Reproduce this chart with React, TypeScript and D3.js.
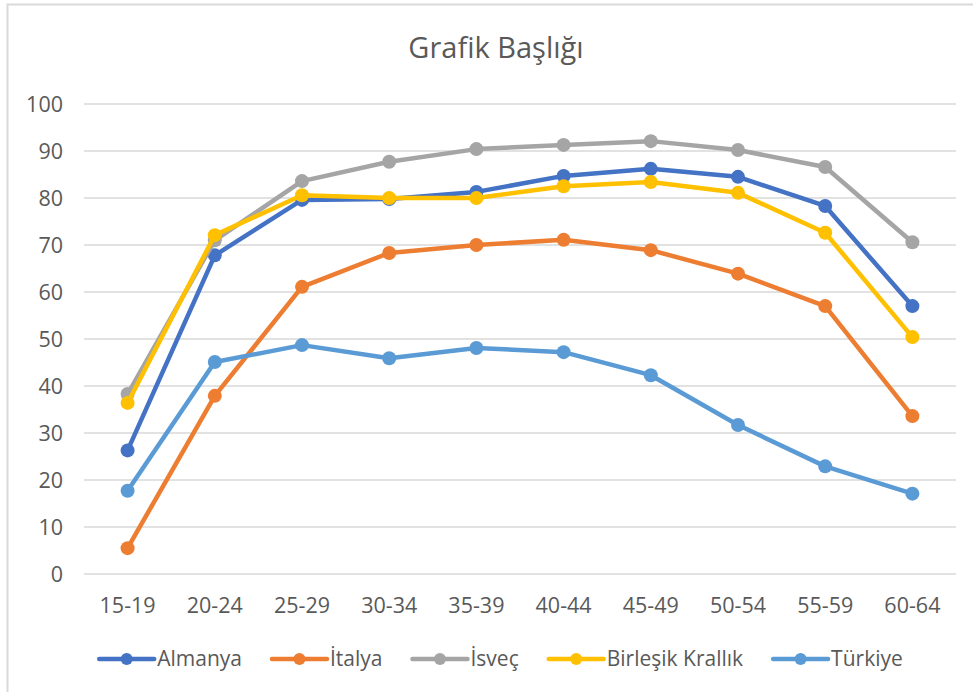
import React, { useEffect, useRef } from "react";
import * as d3 from "d3";

const categories = ["15-19", "20-24", "25-29", "30-34", "35-39", "40-44", "45-49", "50-54", "55-59", "60-64"];
const seriesNames = ["Almanya", "İtalya", "İsveç", "Birleşik Krallık", "Türkiye"];
const seriesColors = ["#4472C4", "#ED7D31", "#A5A5A5", "#FFC000", "#5B9BD5"];

const almanya = [26.3, 67.8, 79.6, 79.8, 81.3, 84.7, 86.2, 84.5, 78.3, 57.0];
const italya = [5.5, 37.9, 61.1, 68.3, 70.0, 71.1, 68.9, 63.9, 57.0, 33.6];
const isvec = [38.3, 71.0, 83.6, 87.7, 90.4, 91.3, 92.1, 90.2, 86.6, 70.6];
const birlesikKrallik = [36.4, 72.1, 80.6, 80.0, 80.0, 82.5, 83.4, 81.1, 72.6, 50.4];
const turkiye = [17.7, 45.1, 48.7, 45.9, 48.1, 47.2, 42.3, 31.7, 22.9, 17.1];

const yTicks = [0, 10, 20, 30, 40, 50, 60, 70, 80, 90, 100];

const allSeries = [almanya, italya, isvec, birlesikKrallik, turkiye];

const FONT = "'Open Sans', 'Liberation Sans', sans-serif";
const TEXT = "#595959";

const drawChart = (svgEl: SVGSVGElement) => {
  const width = 973,
    height = 692;
  const svg = d3.select(svgEl);
  svg.selectAll("*").remove();
  svg.attr("width", width).attr("height", height);

  svg.append("rect").attr("width", width).attr("height", height).attr("fill", "#fff");
  // chart area border (right/bottom edges fall outside the picture)
  svg
    .append("rect")
    .attr("x", 7.5)
    .attr("y", 4.5)
    .attr("width", 1000)
    .attr("height", 1000)
    .attr("fill", "none")
    .attr("stroke", "#d9d9d9")
    .attr("stroke-width", 2);

  const x = d3.scaleBand().domain(categories).range([84, 956]);
  const y = d3.scaleLinear().domain([0, 100]).range([574, 104]);

  svg
    .append("text")
    .attr("x", 496)
    .attr("y", 58)
    .attr("text-anchor", "middle")
    .attr("font-family", FONT)
    .attr("font-size", 29)
    .attr("fill", TEXT)
    .text("Grafik Başlığı");

  // grid
  svg
    .append("g")
    .selectAll("line")
    .data(yTicks)
    .enter()
    .append("line")
    .attr("x1", 84)
    .attr("x2", 956)
    .attr("y1", (d) => y(d))
    .attr("y2", (d) => y(d))
    .attr("stroke", "#d9d9d9")
    .attr("stroke-width", 1.3);

  svg
    .append("g")
    .selectAll("text")
    .data(yTicks)
    .enter()
    .append("text")
    .attr("x", 63)
    .attr("y", (d) => y(d))
    .attr("dy", "0.35em")
    .attr("text-anchor", "end")
    .attr("font-family", FONT)
    .attr("font-size", 21.5)
    .attr("fill", TEXT)
    .text((d) => d);

  svg
    .append("g")
    .selectAll("text")
    .data(categories)
    .enter()
    .append("text")
    .attr("x", (d) => x(d)! + x.bandwidth() / 2)
    .attr("y", 605)
    .attr("dy", "0.35em")
    .attr("text-anchor", "middle")
    .attr("font-family", FONT)
    .attr("font-size", 21.5)
    .attr("fill", TEXT)
    .text((d) => d);

  const line = d3
    .line<number>()
    .x((d, i) => x(categories[i])! + x.bandwidth() / 2)
    .y((d) => y(d));

  allSeries.forEach((vals, si) => {
    const g = svg.append("g");
    g.append("path")
      .attr("d", line(vals))
      .attr("fill", "none")
      .attr("stroke", seriesColors[si])
      .attr("stroke-width", 4.5)
      .attr("stroke-linejoin", "round")
      .attr("stroke-linecap", "round");
    g.selectAll("circle")
      .data(vals)
      .enter()
      .append("circle")
      .attr("cx", (d, i) => x(categories[i])! + x.bandwidth() / 2)
      .attr("cy", (d) => y(d))
      .attr("r", 7)
      .attr("fill", seriesColors[si]);
  });

  // legend
  const legend = svg.append("g");
  const items = seriesNames.map((name, i) => {
    const g = legend.append("g");
    g.append("line")
      .attr("x1", 0)
      .attr("x2", 55)
      .attr("y1", 0)
      .attr("y2", 0)
      .attr("stroke", seriesColors[i])
      .attr("stroke-width", 4.5)
      .attr("stroke-linecap", "round");
    g.append("circle").attr("cx", 27.5).attr("cy", 0).attr("r", 6).attr("fill", seriesColors[i]);
    const t = g
      .append("text")
      .attr("x", 58)
      .attr("dy", "0.35em")
      .attr("font-family", FONT)
      .attr("font-size", 21)
      .attr("fill", TEXT)
      .text(name);
    const w = 58 + (t.node() as SVGTextElement).getComputedTextLength();
    return { g, w };
  });
  const gap = 30;
  const total = d3.sum(items, (d) => d.w) + gap * (items.length - 1);
  let cx = 501 - total / 2;
  items.forEach((it) => {
    it.g.attr("transform", `translate(${cx},659)`);
    cx += it.w + gap;
  });
};

const App = () => {
  const svg = useRef<SVGSVGElement>(null);

  useEffect(() => {
    if (svg.current) drawChart(svg.current);
  }, []);

  return (
    <div style={{ position: "absolute", left: 0, top: 0 }}>
      <svg ref={svg} style={{ display: "block" }} />
    </div>
  );
};

export default App;
